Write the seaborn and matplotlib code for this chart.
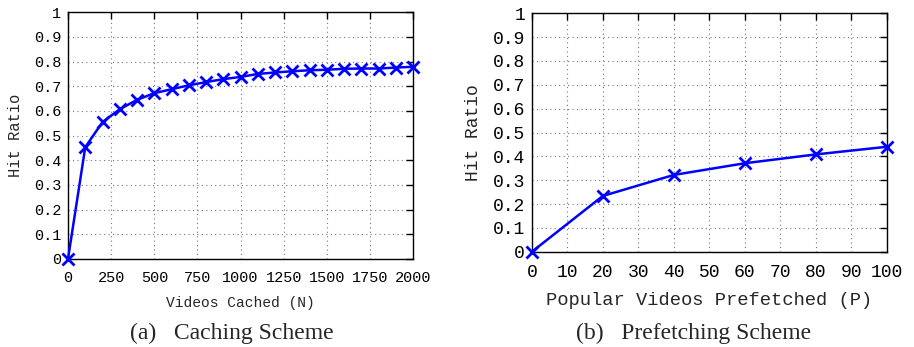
import matplotlib
matplotlib.use("Agg")
import matplotlib.pyplot as plt
import seaborn as sns
import pandas as pd
from matplotlib.ticker import FuncFormatter

# Data
cache_n = [0, 100, 200, 300, 400, 500, 600, 700, 800, 900, 1000,
           1100, 1200, 1300, 1400, 1500, 1600, 1700, 1800, 1900, 2000]
cache_hit = [0.0, 0.453, 0.555, 0.607, 0.645, 0.672, 0.688, 0.704, 0.717, 0.729, 0.738,
             0.750, 0.756, 0.761, 0.765, 0.767, 0.771, 0.772, 0.772, 0.776, 0.779]
prefetch_p = [0, 20, 40, 60, 80, 100]
prefetch_hit = [0.0, 0.234, 0.322, 0.371, 0.408, 0.440]

cache_xticks = [0, 250, 500, 750, 1000, 1250, 1500, 1750, 2000]
prefetch_xticks = [0, 10, 20, 30, 40, 50, 60, 70, 80, 90, 100]
yticks = [0, 0.1, 0.2, 0.3, 0.4, 0.5, 0.6, 0.7, 0.8, 0.9, 1.0]

sns.set_style("white")
plt.rcParams['font.family'] = ['Liberation Mono', 'DejaVu Sans Mono']

fig = plt.figure(figsize=(9.14, 3.47), dpi=100)
ax1 = fig.add_axes([0.0744, 0.254, 0.452 - 0.0744, 0.9645 - 0.254])
ax2 = fig.add_axes([0.582, 0.2746, 0.970 - 0.582, 0.9617 - 0.2746])

df1 = pd.DataFrame({"x": cache_n, "y": cache_hit})
df2 = pd.DataFrame({"x": prefetch_p, "y": prefetch_hit})

yfmt = FuncFormatter(lambda v, p: "0" if abs(v) < 1e-9 else ("1" if abs(v - 1) < 1e-9 else f"{v:.1f}"))

for ax, df, xt, xlim, xlabel, fs, xfs, yfs in [
    (ax1, df1, cache_xticks, (0, 2000), "Videos Cached (N)", 11, 10.5, 11.2),
    (ax2, df2, prefetch_xticks, (0, 100), "Popular Videos Prefetched (P)", 13, 13.5, 13),
]:
    sns.lineplot(data=df, x="x", y="y", ax=ax, color="#0000ff", linewidth=1.8,
                 marker="x", markersize=9, markeredgewidth=2, markeredgecolor="#0000ff",
                 clip_on=False, zorder=5)
    ax.set_xlim(*xlim)
    ax.set_ylim(0, 1)
    ax.set_xticks(xt)
    ax.set_yticks(yticks)
    ax.yaxis.set_major_formatter(yfmt)
    ax.grid(True, linestyle=(0, (1, 3)), color="#777777", linewidth=0.8)
    ax.tick_params(direction="in", length=5, width=1, top=True, right=True,
                   labelsize=fs, colors="black")
    ax.tick_params(axis="x", pad=9)
    ax.tick_params(axis="y", pad=5)
    for s in ax.spines.values():
        s.set_visible(True)
        s.set_color("black")
        s.set_linewidth(1)
    ax.set_xlabel(xlabel, fontsize=xfs, labelpad=8)
    ax.set_ylabel("Hit Ratio", fontsize=yfs, labelpad=8)

fig.text(232 / 914, 1 - 333 / 347, "(a)   Caching Scheme", ha="center", va="center",
         fontsize=17, family="Liberation Serif")
fig.text(694 / 914, 1 - 333 / 347, "(b)   Prefetching Scheme", ha="center", va="center",
         fontsize=17, family="Liberation Serif")

fig.savefig("out.png", dpi=100)
